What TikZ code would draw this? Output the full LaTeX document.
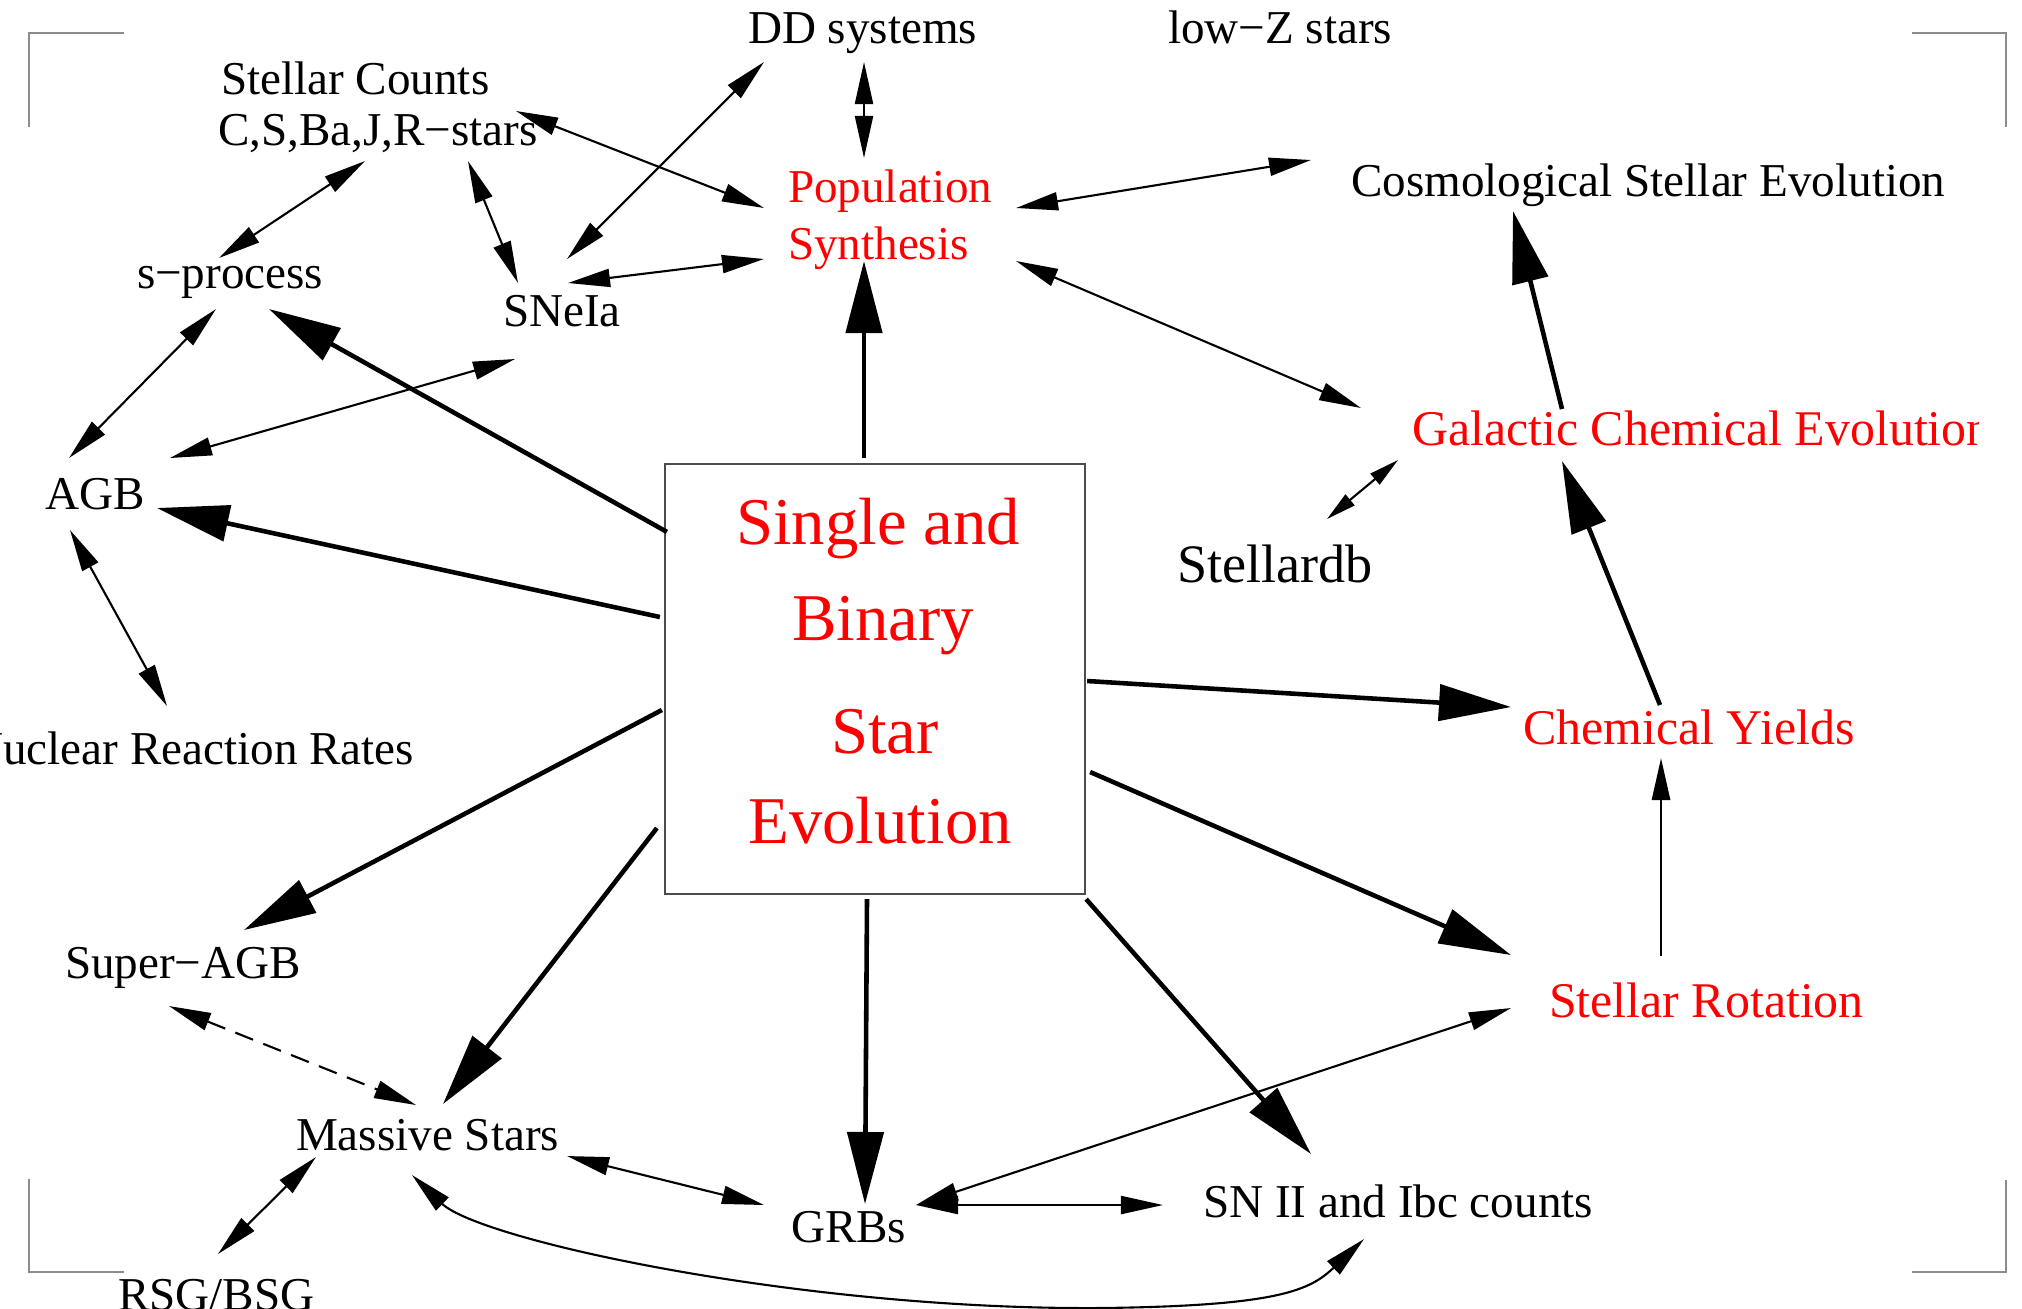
\documentclass[tikz,border=0pt]{standalone}
\usepackage{fontspec}
\setmainfont{Liberation Serif}
\usetikzlibrary{arrows.meta}
\definecolor{cornergray}{gray}{0.55}
\tikzset{
  lbl/.style={inner sep=0pt, outer sep=0pt, anchor=base west, font=\fontsize{13.4}{16}\selectfont},
  redlbl/.style={lbl, text=red},
  redbig/.style={lbl, text=red, font=\fontsize{14.2}{17}\selectfont},
  biglbl/.style={inner sep=0pt, outer sep=0pt, anchor=base, font=\fontsize{19}{22}\selectfont, text=red},
  thickarr/.style={line width=1.3pt, -{Triangle[length=0.72cm,width=0.36cm]}},
  medarr/.style={line width=0.8pt, -{Triangle[length=0.42cm,width=0.18cm]}},
  dbl/.style={line width=0.6pt, {Triangle[length=0.42cm,width=0.18cm]}-{Triangle[length=0.42cm,width=0.18cm]}},
  dblsmall/.style={line width=0.6pt, {Triangle[length=0.3cm,width=0.14cm]}-{Triangle[length=0.3cm,width=0.14cm]}},
  corner/.style={draw=cornergray, line width=0.8pt},
}
\begin{document}
\begin{tikzpicture}[x=0.01cm,y=-0.01cm]
\useasboundingbox (0,0) rectangle (2022,1308);
% corner marks
\draw[corner] (29,127) -- (29,33) -- (124,33);
\draw[corner] (1912,33) -- (2006,33) -- (2006,127);
\draw[corner] (29,1179) -- (29,1272) -- (124,1272);
\draw[corner] (1912,1272) -- (2006,1272) -- (2006,1180);
% central box
\node[draw=black!70, line width=0.6pt, minimum width=4.2cm, minimum height=4.3cm, inner sep=0pt, outer sep=0pt] (sse) at (875,679) {};
\node[biglbl] (l1) at (878,544) {Single and};
\node[biglbl] (l2) at (883,640) {Binary};
\node[biglbl] (l3) at (885,753) {Star};
\node[biglbl] (l4) at (880,843) {Evolution};
% labels
\node[lbl] (dd) at (748,43) {DD systems};
\node[lbl] (lowz) at (1168,43) {low−Z stars};
\node[lbl] (sc) at (221,94) {Stellar Counts};
\node[lbl] (csb) at (218,145) {C,S,Ba,J,R−stars};
\node[redlbl] (pop) at (788,202) {Population};
\node[redlbl] (syn) at (788,259) {Synthesis};
\node[lbl] (cosmo) at (1351,196) {Cosmological Stellar Evolution};
\node[lbl] (sproc) at (137,288) {s−process};
\node[lbl] (snia) at (503,326) {SNeIa};
\begin{scope}
\clip (0,0) rectangle (1978,1308);
\node[redbig] (gal) at (1412,445) {Galactic Chemical Evolution};
\end{scope}
\node[lbl] (agb) at (45,509) {AGB};
\node[lbl, font=\fontsize{15.4}{18}\selectfont] (sdb) at (1177,582) {Stellardb};
\node[lbl, anchor=base east] (nuc) at (414,764) {Nuclear Reaction Rates};
\node[redbig] (chem) at (1523,744) {Chemical Yields};
\node[lbl] (sagb) at (65,978) {Super−AGB};
\node[redbig] (rot) at (1549,1017) {Stellar Rotation};
\node[lbl] (mass) at (296,1150) {Massive Stars};
\node[lbl] (grb) at (791,1242) {GRBs};
\node[lbl] (sn) at (1203,1217) {SN II and Ibc counts};
\node[lbl] (rsg) at (118,1310) {RSG/BSG};
% thick arrows
\draw[thickarr] ([shift={(-11,-6)}]sse.north) -- ([shift={(76,2)}]syn.base west);
\draw[thickarr] ([shift={(2,68)}]sse.north west) -- ([shift={(132,21)}]sproc.base west);
\draw[thickarr] ([shift={(-5,-62)}]sse.west) -- ([shift={(112,-1)}]agb.base west);
\draw[thickarr] ([shift={(-3,31)}]sse.west) -- ([shift={(179,-48)}]sagb.base west);
\draw[thickarr] ([shift={(-8,149)}]sse.west) -- ([shift={(147,-46)}]mass.base west);
\draw[thickarr] ([shift={(-8,5)}]sse.south) -- ([shift={(74,-38)}]grb.base west);
\draw[thickarr] ([shift={(2,2)}]sse.east) -- ([shift={(-12,-37)}]chem.base west);
\draw[thickarr] ([shift={(5,93)}]sse.east) -- ([shift={(-38,-62)}]rot.base west);
\draw[thickarr] ([shift={(1,5)}]sse.south east) -- ([shift={(108,-63)}]sn.base west);
\draw[thickarr] ([shift={(137,-39)}]chem.base west) -- ([shift={(150,16)}]gal.base west);
\draw[thickarr] ([shift={(150,-36)}]gal.base west) -- ([shift={(162,15)}]cosmo.base west);
\draw[medarr] ([shift={(112,-61)}]rot.base west) -- ([shift={(138,14)}]chem.base west);
% double arrows
\draw[dbl] ([shift={(116,19)}]dd.base west) -- ([shift={(76,-44)}]pop.base west);
\draw[dbl] ([shift={(298,-34)}]csb.base west) -- ([shift={(-24,6)}]pop.base west);
\draw[dbl] ([shift={(16,19)}]dd.base west) -- ([shift={(64,-67)}]snia.base west);
\draw[dbl] ([shift={(65,-43)}]snia.base west) -- ([shift={(-24,0)}]syn.base west);
\draw[dbl] ([shift={(147,16)}]csb.base west) -- ([shift={(82,-30)}]sproc.base west);
\draw[dbl] ([shift={(250,16)}]csb.base west) -- ([shift={(15,-43)}]snia.base west);
\draw[dbl] ([shift={(79,21)}]sproc.base west) -- ([shift={(24,-51)}]agb.base west);
\draw[dbl] ([shift={(12,33)}]snia.base west) -- ([shift={(125,-51)}]agb.base west);
\draw[dbl] ([shift={(25,21)}]agb.base west) -- ([shift={(-247,-58)}]nuc.base east);
\draw[dbl] ([shift={(228,6)}]pop.base west) -- ([shift={(-40,-36)}]cosmo.base west);
\draw[dbl] ([shift={(228,2)}]syn.base west) -- ([shift={(-51,-37)}]gal.base west);
\draw[dblsmall] ([shift={(150,-63)}]sdb.base west) -- ([shift={(-14,15)}]gal.base west);
\draw[dbl, dash pattern=on 0.19cm off 0.11cm] ([shift={(104,28)}]sagb.base west) -- ([shift={(120,-45)}]mass.base west);
\draw[dbl] ([shift={(20,7)}]mass.base west) -- ([shift={(100,-56)}]rsg.base west);
\draw[dbl] ([shift={(271,6)}]mass.base west) -- ([shift={(-27,-37)}]grb.base west);
\draw[dbl] ([shift={(125,-37)}]grb.base west) -- ([shift={(-38,-9)}]rot.base west);
\draw[dbl] ([shift={(125,-37)}]grb.base west) -- ([shift={(-40,-12)}]sn.base west);
\coordinate (cbot) at (1100,1308);
\draw[dbl] ([shift={(116,25)}]mass.base west) .. controls +(68,65) and +(-300,2) .. (cbot) .. controls +(180,-2) and +(-54,51) .. ([shift={(161,22)}]sn.base west);
\end{tikzpicture}
\end{document}
